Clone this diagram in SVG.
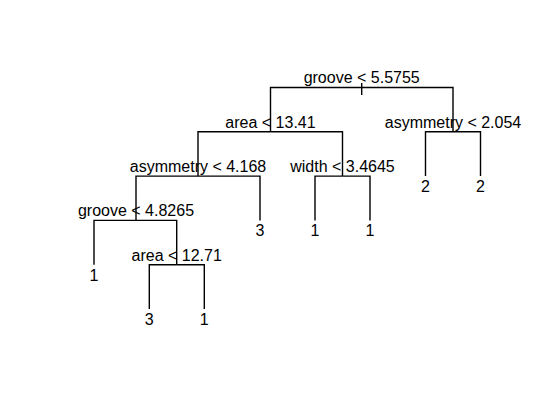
<svg xmlns="http://www.w3.org/2000/svg" width="537" height="416" viewBox="0 0 537 416">
<style>
text{font-family:"Liberation Sans",Arial,Helvetica,sans-serif;font-size:16px;fill:#000;text-anchor:middle}
.c path{fill:none;stroke:#000;stroke-width:1.4}
</style>
<rect width="537" height="416" fill="#fff"/>
<g class="c" id="connectors">
<path d="M361.7,83 V95"/>
<path d="M361.7,87.5 H270.5 V131.8"/>
<path d="M361.7,87.5 H453 V131.8"/>
<path d="M270.5,131.8 H198 V176.1"/>
<path d="M270.5,131.8 H342.5 V176.1"/>
<path d="M453,131.8 H425.5 V176.1"/>
<path d="M453,131.8 H480.5 V176.1"/>
<path d="M198,176.1 H136 V220.4"/>
<path d="M198,176.1 H260 V220.4"/>
<path d="M342.5,176.1 H315 V220.4"/>
<path d="M342.5,176.1 H370 V220.4"/>
<path d="M136,220.4 H94 V264.7"/>
<path d="M136,220.4 H176.7 V264.7"/>
<path d="M176.7,264.7 H149.3 V309"/>
<path d="M176.7,264.7 H204.3 V309"/>
</g>
<g id="n1"><text x="361.7" y="83">groove &lt; 5.5755</text></g>
<g id="n2"><text x="270.5" y="127.8">area &lt; 13.41</text></g>
<g id="n3"><text x="453" y="127.8">asymmetry &lt; 2.054</text></g>
<g id="n4"><text x="198" y="172.1">asymmetry &lt; 4.168</text></g>
<g id="n5"><text x="342.5" y="172.1">width &lt; 3.4645</text></g>
<g id="n6"><text x="425.5" y="192">2</text></g>
<g id="n7"><text x="480.5" y="192">2</text></g>
<g id="n8"><text x="136" y="216.4">groove &lt; 4.8265</text></g>
<g id="n9"><text x="260" y="236.3">3</text></g>
<g id="n10"><text x="315" y="236.3">1</text></g>
<g id="n11"><text x="370" y="236.3">1</text></g>
<g id="n16"><text x="94" y="280.6">1</text></g>
<g id="n17"><text x="176.7" y="260.7">area &lt; 12.71</text></g>
<g id="n34"><text x="149.3" y="325">3</text></g>
<g id="n35"><text x="204.3" y="325">1</text></g>
</svg>
